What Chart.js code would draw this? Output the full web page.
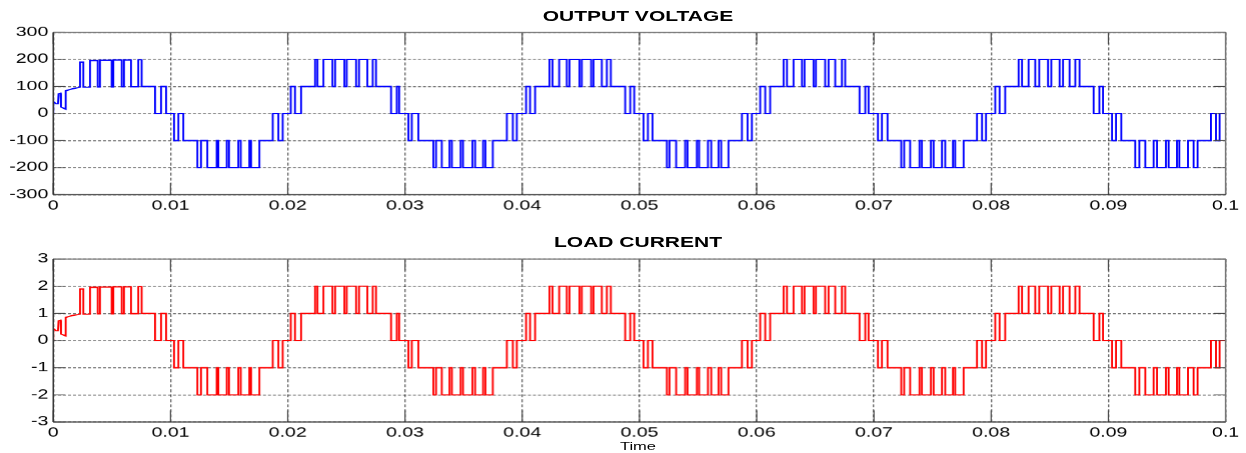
<!DOCTYPE html>
<html><head><meta charset="utf-8">
<script src="https://cdn.jsdelivr.net/npm/chart.js@4.4.1/dist/chart.umd.min.js"></script>
<style>
html,body{margin:0;padding:0;background:#fff;width:1246px;height:453px;overflow:hidden;}
#stage{position:absolute;left:0;top:0;width:830px;height:453px;transform-origin:0 0;transform:scaleX(1.501205);}
.box{position:absolute;left:0;width:830px;height:215px;}
.ttl{position:absolute;font-family:'Liberation Sans',Arial,sans-serif;font-weight:bold;font-size:14px;line-height:14px;color:#000;width:300px;left:275px;text-align:center;white-space:nowrap;}
</style></head>
<body>
<div id="stage">
 <div class="box" style="top:0"><canvas id="cv"></canvas></div>
 <div class="box" style="top:225px"><canvas id="ci"></canvas></div>
 <div class="ttl" style="top:9px">OUTPUT VOLTAGE</div>
 <div class="ttl" style="top:235px">LOAD CURRENT</div>
 <div class="ttl" style="top:440.6px;font-size:11px;font-weight:normal;line-height:11px">Time</div>
</div>
<script>
// ---- tick labels ----
const xTickLabels = ['0','0.01','0.02','0.03','0.04','0.05','0.06','0.07','0.08','0.09','0.1'];
const voltTickLabels = ['-300','-200','-100','0','100','200','300'];
const currTickLabels = ['-3','-2','-1','0','1','2','3'];

// ---- start-up transient (time in ms, polyline points) ----
const transientTimesMs = [0, 0, 0.23, 0.40, 0.45, 0.62, 0.66, 0.66, 1.06, 1.06, 1.60, 2.28];
const transientVoltage = [0, 44, 36, 36, 73, 75, 75, 24, 16, 84, 91, 97];
const transientCurrent = [0, 0.44, 0.36, 0.36, 0.73, 0.75, 0.75, 0.24, 0.17, 0.85, 0.92, 0.97];

// ---- switching instants (ms) and level reached at each instant ----
const switchTimesMs = [
 2.28, 2.56, 3.13, 3.79, 3.98, 4.98, 5.12, 5.84, 6.03, 6.63, 7.25, 7.54, 8.68, 9.19, 9.62,
 10.30, 10.67, 11.09, 12.29, 12.60, 13.14, 13.94, 14.08, 14.80, 14.99, 15.78, 15.99, 16.72, 16.87, 17.58, 18.72, 19.20, 19.57,
 20.26, 20.62, 21.14, 22.33, 22.53, 23.04, 23.81, 24.04, 24.83, 25.03, 25.83, 26.08, 26.79, 27.25, 27.53, 28.81, 29.30, 29.50,
 30.29, 30.58, 31.14, 32.42, 32.65, 33.14, 33.80, 34.00, 34.75, 34.95, 35.75, 35.98, 36.66, 36.86, 37.49, 38.69, 39.20, 39.54,
 40.33, 40.67, 41.10, 42.32, 42.58, 43.15, 43.80, 44.03, 44.88, 45.08, 45.88, 46.08, 46.79, 47.22, 47.56, 48.78, 49.21, 49.55,
 50.34, 50.72, 51.11, 52.34, 52.56, 53.13, 53.90, 54.10, 54.90, 55.09, 55.84, 56.12, 56.74, 56.97, 57.59, 58.74, 59.22, 59.59,
 60.30, 60.73, 61.15, 62.29, 62.58, 63.14, 63.86, 64.08, 64.85, 65.05, 65.84, 66.13, 66.70, 67.27, 67.55, 68.77, 69.26, 69.54,
 70.34, 70.68, 71.16, 72.33, 72.58, 73.09, 73.89, 74.09, 74.86, 75.09, 75.80, 76.08, 76.74, 76.93, 77.65, 78.79, 79.22, 79.56,
 80.35, 80.72, 81.20, 82.34, 82.63, 83.19, 83.76, 84.10, 84.85, 85.13, 85.84, 86.13, 86.69, 87.18, 87.54, 88.74, 89.23, 89.54,
 90.31, 90.65, 91.10, 92.29, 92.64, 93.15, 93.86, 94.15, 94.91, 95.14, 95.85, 96.05, 96.79, 97.27, 97.61, 98.75, 99.18, 99.49
];
const voltageLevels = [
 190, 97, 196, 98, 197, 98, 198, 99, 198, 99, 199, 100, 0, 100, 0,
 -100, 0, -100, -200, -100, -200, -100, -200, -100, -200, -100, -200, -100, -200, -100, 0, -100, 0,
 100, 0, 100, 200, 100, 200, 100, 200, 100, 200, 100, 200, 100, 200, 100, 0, 100, 0,
 -100, 0, -100, -200, -100, -200, -100, -200, -100, -200, -100, -200, -100, -200, -100, 0, -100, 0,
 100, 0, 100, 200, 100, 200, 100, 200, 100, 200, 100, 200, 100, 200, 100, 0, 100, 0,
 -100, 0, -100, -200, -100, -200, -100, -200, -100, -200, -100, -200, -100, -200, -100, 0, -100, 0,
 100, 0, 100, 200, 100, 200, 100, 200, 100, 200, 100, 200, 100, 200, 100, 0, 100, 0,
 -100, 0, -100, -200, -100, -200, -100, -200, -100, -200, -100, -200, -100, -200, -100, 0, -100, 0,
 100, 0, 100, 200, 100, 200, 100, 200, 100, 200, 100, 200, 100, 200, 100, 0, 100, 0,
 -100, 0, -100, -200, -100, -200, -100, -200, -100, -200, -100, -200, -100, -200, -100, 0, -100, 0
];
const currentLevels = [
 1.90, 0.97, 1.96, 0.98, 1.97, 0.98, 1.98, 0.99, 1.98, 0.99, 1.99, 1, 0, 1, 0,
 -1, 0, -1, -2, -1, -2, -1, -2, -1, -2, -1, -2, -1, -2, -1, 0, -1, 0,
 1, 0, 1, 2, 1, 2, 1, 2, 1, 2, 1, 2, 1, 2, 1, 0, 1, 0,
 -1, 0, -1, -2, -1, -2, -1, -2, -1, -2, -1, -2, -1, -2, -1, 0, -1, 0,
 1, 0, 1, 2, 1, 2, 1, 2, 1, 2, 1, 2, 1, 2, 1, 0, 1, 0,
 -1, 0, -1, -2, -1, -2, -1, -2, -1, -2, -1, -2, -1, -2, -1, 0, -1, 0,
 1, 0, 1, 2, 1, 2, 1, 2, 1, 2, 1, 2, 1, 2, 1, 0, 1, 0,
 -1, 0, -1, -2, -1, -2, -1, -2, -1, -2, -1, -2, -1, -2, -1, 0, -1, 0,
 1, 0, 1, 2, 1, 2, 1, 2, 1, 2, 1, 2, 1, 2, 1, 0, 1, 0,
 -1, 0, -1, -2, -1, -2, -1, -2, -1, -2, -1, -2, -1, -2, -1, 0, -1, 0
];
const endTimeMs = 100;

// ---- build step polylines ----
function buildPoints(tTimes, tVals, sTimes, sLevels, endMs) {
  const pts = tTimes.map((t, i) => ({x: t / 1000, y: tVals[i]}));
  let prev = tVals[tVals.length - 1];
  sTimes.forEach((t, i) => {
    pts.push({x: t / 1000, y: prev});
    pts.push({x: t / 1000, y: sLevels[i]});
    prev = sLevels[i];
  });
  pts.push({x: endMs / 1000, y: prev});
  return pts;
}

const SX = 1.501205;
const FONT = "'Liberation Sans', Arial, sans-serif";

const framePlugin = {
  id: 'frame',
  afterDatasetsDraw(chart) {
    const {ctx, chartArea: a, scales: {x, y}} = chart;
    const L = (x1, y1, x2, y2) => { ctx.beginPath(); ctx.moveTo(x1, y1); ctx.lineTo(x2, y2); ctx.stroke(); };
    ctx.save();
    ctx.setLineDash([]);
    ctx.lineWidth = 0.8;
    ctx.strokeStyle = '#444';
    const tx = 11.7, ty = 11.7 / SX;
    x.ticks.forEach(t => { const p = x.getPixelForValue(t.value); L(p, a.bottom, p, a.bottom - tx); L(p, a.top, p, a.top + tx); });
    y.ticks.forEach(t => { const p = y.getPixelForValue(t.value); L(a.left, p, a.left + ty, p); L(a.right, p, a.right - ty, p); });
    ctx.lineWidth = 1;
    ctx.strokeStyle = '#777';
    L(a.left, a.top, a.right, a.top);
    L(a.right, a.top, a.right, a.bottom);
    ctx.strokeStyle = '#333';
    L(a.left, a.top, a.left, a.bottom);
    L(a.left, a.bottom, a.right, a.bottom);
    ctx.restore();
  }
};

function makeChart(id, data, color, yMin, yMax, yStep, yLabels, padTop, xAxisH) {
  return new Chart(document.getElementById(id), {
    type: 'line',
    data: {datasets: [{data, borderColor: color, borderWidth: 1.25, pointRadius: 0, tension: 0, fill: false}]},
    options: {
      responsive: true, maintainAspectRatio: false, animation: false, devicePixelRatio: 1.5,
      parsing: false, normalized: true, events: [],
      layout: {padding: {top: padTop, right: 13.6, bottom: 0, left: 0}},
      plugins: {legend: {display: false}, tooltip: {enabled: false}, title: {display: false}},
      scales: {
        x: {
          type: 'linear', min: 0, max: 0.1,
          ticks: {stepSize: 0.01, autoSkip: false, maxRotation: 0, padding: 3.5, color: '#000',
                  font: {family: FONT, size: 13}, callback: (v, i) => xTickLabels[i]},
          grid: {color: 'rgba(0,0,0,0.75)', lineWidth: 0.7, drawTicks: false, borderDash: [3, 2]},
          border: {display: false, dash: [3, 2]},
          afterFit: s => { s.height = xAxisH; }
        },
        y: {
          type: 'linear', min: yMin, max: yMax,
          ticks: {stepSize: yStep, autoSkip: false, padding: 3.3, color: '#000',
                  font: {family: FONT, size: 13}, callback: (v, i) => yLabels[i]},
          grid: {color: 'rgba(0,0,0,0.55)', lineWidth: 0.9, drawTicks: false, borderDash: [2, 1.33]},
          border: {display: false, dash: [2, 1.33]},
          afterFit: s => { s.width = 35.5; }
        }
      }
    },
    plugins: [framePlugin]
  });
}

const voltPts = buildPoints(transientTimesMs, transientVoltage, switchTimesMs, voltageLevels, endTimeMs);
const currPts = buildPoints(transientTimesMs, transientCurrent, switchTimesMs, currentLevels, endTimeMs);

makeChart('cv', voltPts, '#0000ff', -300, 300, 100, voltTickLabels, 32.3, 20.7);
makeChart('ci', currPts, '#ff0000', -3, 3, 1, currTickLabels, 34, 18.3);
</script>
</body></html>
